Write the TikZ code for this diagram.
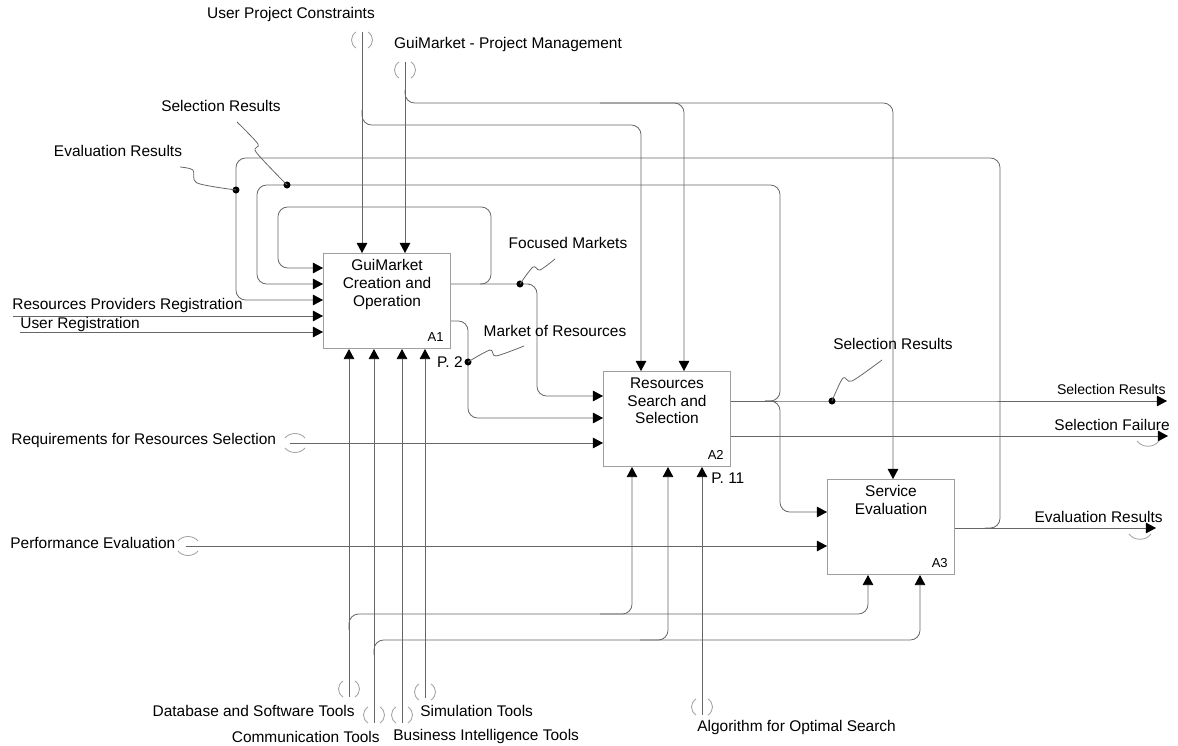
\documentclass[tikz,border=0pt]{standalone}
\usepackage{fontspec}
\setmainfont{Liberation Sans}
\usetikzlibrary{positioning,calc,arrows.meta}

\tikzset{
  func/.style={draw=gray!75, line width=0.6pt, minimum width=2.54cm, minimum height=1.9cm, anchor=north west, inner sep=0pt},
  ftext/.style={font=\fontsize{8.8}{10.2}\selectfont, align=center, below=0.5pt, inner sep=3pt},
  fnum/.style={font=\fontsize{7.4}{8}\selectfont, anchor=south east, inner sep=4pt},
  flow/.style={draw=gray!80!black, line width=0.45pt, rounded corners=5.5pt},
  arr/.style={flow, -{Triangle[length=5.7pt,width=6pt,black]}},
  lbl/.style={font=\fontsize{8.8}{10}\selectfont, inner sep=0pt},
  squig/.style={draw=gray!80!black, line width=0.45pt},
  jdot/.style={circle, fill=black, inner sep=0pt, minimum size=4pt},
  tun/.style={draw=gray!70, line width=0.5pt},
  vtunnel/.pic={
    \draw[tun] (-6,0) .. controls (-12,4) and (-12,12) .. (-6,16);
    \draw[tun] (6,0) .. controls (12,4) and (12,12) .. (6,16);
  },
  htunnel/.pic={
    \draw[tun] (0,-5) .. controls (5,-11) and (15,-11) .. (20,-5);
    \draw[tun] (0,5) .. controls (5,11) and (15,11) .. (20,5);
  },
}

\begin{document}
\begin{tikzpicture}[x=0.02cm, y=-0.02cm]
  \fill[white] (0,0) rectangle (1178,746);
  \useasboundingbox (0,0) rectangle (1178,746);

  % activity boxes
  \node[func] (A1) at (323,253) {};
  \node[ftext] at (A1.north) {GuiMarket\\Creation and\\Operation};
  \node[fnum] at (A1.south east) {A1};
  \node[func] (A2) at (603,371) {};
  \node[ftext] at (A2.north) {Resources\\Search and\\Selection};
  \node[fnum] at (A2.south east) {A2};
  \node[func] (A3) at (827,479) {};
  \node[ftext] at (A3.north) {Service\\Evaluation};
  \node[fnum] at (A3.south east) {A3};

  % free ends and junctions
  \coordinate (upc) at (362,32);
  \coordinate (gpm) at (405,62);
  \coordinate (rpr) at (13,316);
  \coordinate (ur) at (20,332);
  \coordinate (rrs) at (290,443);
  \coordinate (pe) at (186,546);
  \coordinate (dst) at (349,697);
  \coordinate (ct) at (374,723);
  \coordinate (bit) at (402,723);
  \coordinate (st) at (425,698);
  \coordinate (aos) at (702,715);
  \coordinate (srout) at (1167,401);
  \coordinate (sfout) at (1168,436);
  \coordinate (erout) at (1156,528);
  \coordinate (fm) at (520,284);
  \coordinate (mr) at (468,362);
  \coordinate (sr) at (832,401);
  \coordinate (er) at (236,190);
  \coordinate (sl) at (287,185);

  % inputs
  \draw[arr] (rpr) -- (rpr -| A1.west);
  \draw[arr] (ur) -- (ur -| A1.west);
  \draw[arr] (rrs) -- (rrs -| A2.west);
  \draw[arr] (pe) -- (pe -| A3.west);
  \pic at ($(rrs)+(-5,0)$) {htunnel};
  \pic at ($(pe)+(-8,0)$) {htunnel};

  % controls
  \draw[arr] (upc) -- (upc |- A1.north);
  \draw[arr] (362,110) |- (641,125) -- ($(A2.north west)+(38,0)$);
  \draw[arr] (gpm) -- (gpm |- A1.north);
  \draw[arr] (405,90) |- (684,103) -- ($(A2.north west)+(81,0)$);
  \draw[arr] (600,103) -| ($(A3.north west)+(66,0)$);
  \pic at (upc) {vtunnel};
  \pic at (gpm) {vtunnel};

  % mechanisms
  \draw[arr] (dst) -- (dst |- A1.south);
  \draw[arr] (349,630) |- (632,614) -- ($(A2.south west)+(29,0)$);
  \draw[arr] (600,614) -| ($(A3.south west)+(41,0)$);
  \draw[arr] (ct) -- (ct |- A1.south);
  \draw[arr] (374,655) |- (668,640) -- ($(A2.south west)+(65,0)$);
  \draw[arr] (640,640) -| ($(A3.south west)+(93,0)$);
  \draw[arr] (bit) -- (bit |- A1.south);
  \draw[arr] (st) -- (st |- A1.south);
  \draw[arr] (aos) -- (aos |- A2.south);
  \pic at ($(dst)+(0,-16)$) {vtunnel};
  \pic at ($(ct)+(0,-16)$) {vtunnel};
  \pic at ($(bit)+(0,-16)$) {vtunnel};
  \pic at ($(st)+(0,-14)$) {vtunnel};
  \pic at ($(aos)+(0,-16)$) {vtunnel};

  % outputs of A1
  \draw[arr] ($(A1.north east)+(0,31)$) -- (fm) -- (537,284) |- ($(A2.north west)+(0,25)$);
  \draw[arr] (480,284) -| (491,207) -| (278,268) -- ($(A1.north west)+(0,15)$);
  \draw[arr] ($(A1.north east)+(0,68)$) -| (mr) |- ($(A2.north west)+(0,47)$);

  % outputs of A2
  \draw[arr] ($(A2.north east)+(0,30)$) -- (sr) -- (srout);
  \draw[arr] (765,401) -| (780,185) -| (257,284) -- ($(A1.north west)+(0,31)$);
  \draw[arr] (765,401) -| (780,512) -- ($(A3.north west)+(0,33)$);
  \draw[arr] ($(A2.north east)+(0,65)$) -- (sfout);
  \draw[tun] (1137,441) .. controls (1142,448) and (1154,448) .. (1159,441);

  % outputs of A3
  \draw[arr] ($(A3.north east)+(0,49)$) -- (erout);
  \draw[arr] (985,528) -| (1000,158) -| (236,300) -- ($(A1.north west)+(0,47)$);
  \draw[tun] (1129,534) .. controls (1134,541) and (1146,541) .. (1151,534);

  % junction dots and leaders
  \foreach \j in {fm,mr,sr,er,sl}
    \node[jdot] at (\j) {};
  \draw[squig] plot[smooth, tension=0.5] coordinates {(180,167) (193,170) (197,183) (er)};
  \draw[squig] plot[smooth, tension=0.5] coordinates {(237,122) (258,144) (256,152) (sl)};
  \draw[squig] plot[smooth, tension=0.5] coordinates {(fm) (533,267) (540,270) (555,259)};
  \draw[squig] plot[smooth, tension=0.5] coordinates {(mr) (490,350) (496,356) (524,346)};
  \draw[squig] plot[smooth, tension=0.5] coordinates {(sr) (843,378) (852,381) (882,360)};

  % labels
  \node[lbl] (tUPC) at (291,15) {User Project Constraints};
  \node[lbl] (tGPM) at (508,45) {GuiMarket - Project Management};
  \node[lbl] (tSRl) at (221,106) {Selection Results};
  \node[lbl] (tERl) at (118,151) {Evaluation Results};
  \node[lbl, anchor=west] (tRPR) at (12,306) {Resources Providers Registration};
  \node[lbl, anchor=west] (tUR) at (20,325) {User Registration};
  \node[lbl] (tFM) at (568,243) {Focused Markets};
  \node[lbl] (tMR) at (555,331) {Market of Resources};
  \node[lbl, anchor=east] (tP2) at (463,362) {P. 2};
  \node[lbl] (tSRm) at (893,344) {Selection Results};
  \node[lbl, anchor=east, font=\fontsize{8}{9}\selectfont] (tSRr) at (1166,389) {Selection Results};
  \node[lbl, anchor=east] (tSF) at (1170,425) {Selection Failure};
  \node[lbl, anchor=east] (tERr) at (1163,517) {Evaluation Results};
  \node[lbl, anchor=west] (tRRS) at (11,441) {Requirements for Resources Selection};
  \node[lbl, anchor=west] (tPE) at (10,543) {Performance Evaluation};
  \node[lbl, anchor=west] (tP11) at (711,478) {P. 11};
  \node[lbl, anchor=east] (tDST) at (355,711) {Database and Software Tools};
  \node[lbl, anchor=west] (tST) at (420,711) {Simulation Tools};
  \node[lbl, anchor=east] (tCT) at (380,737) {Communication Tools};
  \node[lbl, anchor=west] (tBIT) at (393,737) {Business Intelligence Tools};
  \node[lbl, anchor=west] (tAOS) at (697,728) {Algorithm for Optimal Search};
\end{tikzpicture}
\end{document}
